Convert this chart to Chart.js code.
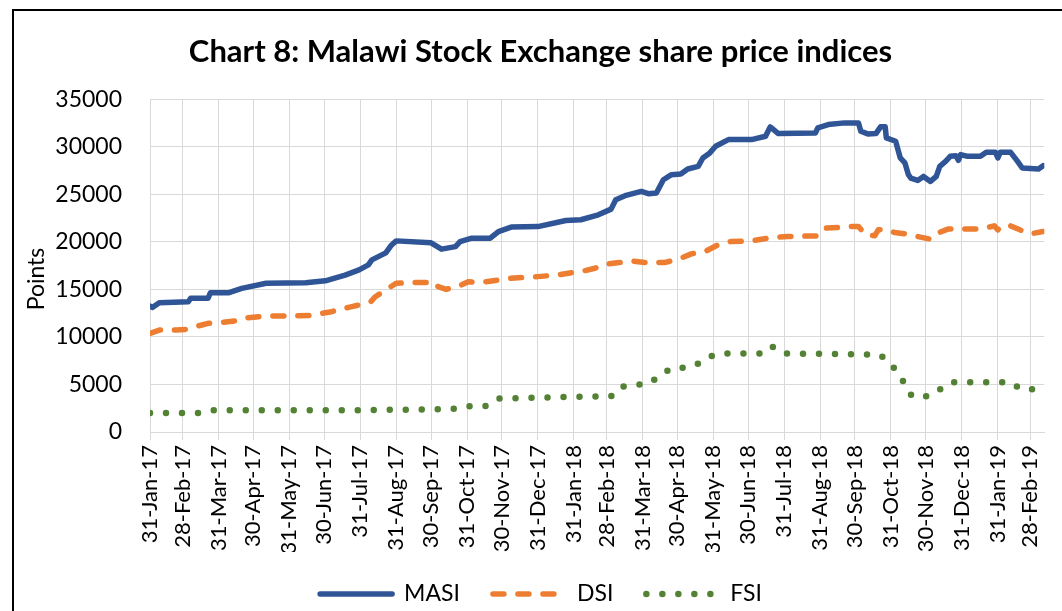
<!DOCTYPE html>
<html>
<head>
<meta charset="utf-8">
<title>Chart 8: Malawi Stock Exchange share price indices</title>
<script src="https://cdn.jsdelivr.net/npm/chart.js@4.4.1/dist/chart.umd.min.js"></script>
<style>
  html, body { margin: 0; padding: 0; background: #fff; }
  #wrap { position: relative; width: 1062px; height: 611px; overflow: hidden; }
  #frame { position: absolute; left: 12px; top: 9px; width: 1100px; height: 700px;
           border-left: 2px solid #000; border-top: 2px solid #000; pointer-events: none; }
</style>
</head>
<body>
<div id="wrap">
  <canvas id="chart" width="1062" height="611"></canvas>
  <div id="frame"></div>
</div>
<script>
// Month-end tick labels on the date axis
const tickLabels = ['31-Jan-17', '28-Feb-17', '31-Mar-17', '30-Apr-17', '31-May-17', '30-Jun-17',
    '31-Jul-17', '31-Aug-17', '30-Sep-17', '31-Oct-17', '30-Nov-17', '31-Dec-17',
    '31-Jan-18', '28-Feb-18', '31-Mar-18', '30-Apr-18', '31-May-18', '30-Jun-18',
    '31-Jul-18', '31-Aug-18', '30-Sep-18', '31-Oct-18', '30-Nov-18', '31-Dec-18',
    '31-Jan-19', '28-Feb-19'];
const axisStart = '2017-01-31';
const axisEnd = '2019-03-12';

// MASI - Malawi All Share Index
const masiDates = ['2017-01-31', '2017-02-02', '2017-02-08', '2017-03-05', '2017-03-07', '2017-03-22',
    '2017-03-24', '2017-04-09', '2017-04-20', '2017-05-11', '2017-06-14', '2017-07-01', '2017-07-18',
    '2017-07-30', '2017-08-07', '2017-08-10', '2017-08-22', '2017-08-27', '2017-08-31', '2017-09-30',
    '2017-10-09', '2017-10-21', '2017-10-25', '2017-11-04', '2017-11-20', '2017-11-27', '2017-12-08',
    '2017-12-31', '2018-01-24', '2018-02-06', '2018-02-21', '2018-03-04', '2018-03-08', '2018-03-16',
    '2018-03-30', '2018-04-05', '2018-04-12', '2018-04-18', '2018-04-25', '2018-05-03', '2018-05-09',
    '2018-05-18', '2018-05-22', '2018-05-28', '2018-06-02', '2018-06-13', '2018-07-03', '2018-07-15',
    '2018-07-19', '2018-07-26', '2018-08-27', '2018-08-29', '2018-09-07', '2018-09-21', '2018-10-03',
    '2018-10-05', '2018-10-11', '2018-10-18', '2018-10-22', '2018-10-26', '2018-10-27', '2018-11-04',
    '2018-11-08', '2018-11-12', '2018-11-15', '2018-11-17', '2018-11-23', '2018-11-28', '2018-12-04',
    '2018-12-09', '2018-12-12', '2018-12-17', '2018-12-21', '2018-12-26', '2018-12-28', '2018-12-30',
    '2019-01-05', '2019-01-16', '2019-01-21', '2019-01-29', '2019-01-31', '2019-02-02', '2019-02-11',
    '2019-02-17', '2019-02-21', '2019-03-07', '2019-03-11'];
const masiValues = [13250, 13100, 13600, 13700, 14060, 14060,
    14650, 14650, 15100, 15650, 15700, 15900, 16500,
    17050, 17570, 18100, 18840, 19670, 20100, 19900,
    19230, 19500, 20030, 20380, 20380, 21080, 21550,
    21600, 22240, 22320, 22840, 23440, 24430, 24850,
    25300, 25060, 25130, 26530, 27060, 27130, 27660,
    27940, 28820, 29350, 30050, 30750, 30750, 31100,
    32090, 31380, 31450, 31980, 32330, 32510, 32510,
    31630, 31350, 31380, 32090, 32090, 30930, 30580,
    28820, 28300, 27060, 26710, 26460, 26880, 26350,
    26880, 27940, 28460, 28990, 29060, 28570, 29170,
    28990, 28990, 29410, 29410, 28820, 29410, 29410,
    28460, 27760, 27660, 28010];

// DSI - Domestic Share Index
const dsiDates = ['2017-01-31', '2017-02-08', '2017-02-22', '2017-03-03', '2017-03-11', '2017-03-22',
    '2017-03-31', '2017-04-14', '2017-04-20', '2017-05-11', '2017-05-30', '2017-06-19', '2017-07-06',
    '2017-07-21', '2017-07-30', '2017-08-09', '2017-08-13', '2017-08-22', '2017-08-31', '2017-09-16',
    '2017-10-04', '2017-10-06', '2017-10-13', '2017-10-23', '2017-11-01', '2017-11-10', '2017-11-21',
    '2017-12-08', '2017-12-31', '2018-01-17', '2018-01-29', '2018-02-06', '2018-02-18', '2018-03-02',
    '2018-03-11', '2018-03-22', '2018-04-02', '2018-04-19', '2018-05-01', '2018-05-12', '2018-05-24',
    '2018-06-04', '2018-06-15', '2018-07-03', '2018-07-20', '2018-08-03', '2018-08-29', '2018-09-04',
    '2018-09-15', '2018-09-24', '2018-10-03', '2018-10-09', '2018-10-17', '2018-10-20', '2018-10-26',
    '2018-11-03', '2018-11-12', '2018-11-23', '2018-12-04', '2018-12-10', '2018-12-19', '2019-01-16',
    '2019-01-28', '2019-01-31', '2019-02-03', '2019-02-11', '2019-02-19', '2019-02-28', '2019-03-11'];
const dsiValues = [10370, 10720, 10720, 10790, 11070, 11430,
    11490, 11670, 11950, 12200, 12200, 12270, 12650,
    13110, 13360, 13700, 14230, 14940, 15640, 15710,
    15710, 15290, 15010, 15290, 15810, 15710, 15890,
    16170, 16340, 16520, 16760, 16870, 17220, 17680,
    17820, 17990, 17820, 17820, 18170, 18730, 18980,
    19680, 20030, 20100, 20450, 20560, 20630, 21440,
    21510, 21610, 21610, 20740, 20630, 21260, 21340,
    20980, 20840, 20560, 20280, 20910, 21340, 21340,
    21680, 21260, 21680, 21680, 21260, 20840, 21080];

// FSI - Foreign Share Index
const fsiDates = ['2017-01-31', '2017-03-14', '2017-03-27', '2017-07-30', '2017-10-06', '2017-10-21',
    '2017-11-04', '2017-11-16', '2017-11-27', '2018-02-03', '2018-03-04', '2018-03-12', '2018-03-25',
    '2018-04-07', '2018-04-15', '2018-04-26', '2018-05-09', '2018-05-20', '2018-05-31', '2018-06-13',
    '2018-07-11', '2018-07-20', '2018-07-30', '2018-10-09', '2018-10-22', '2018-10-30', '2018-11-06',
    '2018-11-12', '2018-11-18', '2018-12-02', '2018-12-12', '2018-12-22', '2019-02-11', '2019-02-20',
    '2019-03-07'];
const fsiValues = [2000, 2000, 2290, 2290, 2390, 2460,
    2740, 2740, 3520, 3700, 3760, 4740, 4920,
    5170, 5980, 6750, 6750, 7280, 8090, 8260,
    8260, 9030, 8260, 8160, 8090, 7210, 6260,
    5030, 3760, 3760, 4470, 5240, 5240, 4500,
    4500];

// Helpers: dates become day numbers on a linear axis
const monthNames = ['Jan', 'Feb', 'Mar', 'Apr', 'May', 'Jun', 'Jul', 'Aug', 'Sep', 'Oct', 'Nov', 'Dec'];
const isoToDay = (s) => Date.UTC(+s.slice(0, 4), +s.slice(5, 7) - 1, +s.slice(8, 10)) / 864e5;
const labelToDay = (s) => {
    const [d, m, y] = s.split('-');
    return Date.UTC(2000 + Number(y), monthNames.indexOf(m), Number(d)) / 864e5;
};
const toPoints = (dates, values) => dates.map((d, i) => ({ x: isoToDay(d), y: values[i] }));
const tickDays = tickLabels.map(labelToDay);

const fontFamily = "Lato, 'Liberation Sans', sans-serif";
const gridColor = '#d9d9d9';

const series = [
    { label: 'MASI', data: toPoints(masiDates, masiValues), color: '#2f5597', width: 5.5, dash: [] },
    { label: 'DSI', data: toPoints(dsiDates, dsiValues), color: '#ed7d31', width: 5.5, dash: [11, 14] },
    { label: 'FSI', data: toPoints(fsiDates, fsiValues), color: '#548235', width: 6.5, dash: [0, 16] },
];

// Rotated y-axis title, placed like the original rather than centred on the plot
const yTitlePlugin = {
    id: 'yTitle',
    afterDraw(chart) {
        const ctx = chart.ctx;
        ctx.save();
        ctx.translate(37, 279);
        ctx.rotate(-Math.PI / 2);
        ctx.font = `23px ${fontFamily}`;
        ctx.fillStyle = '#000';
        ctx.textAlign = 'center';
        ctx.textBaseline = 'middle';
        ctx.fillText('Points', 0, 0);
        ctx.restore();
    }
};

// Bottom legend with long line samples, like the Excel one
const legendPlugin = {
    id: 'lineLegend',
    afterDraw(chart) {
        const ctx = chart.ctx;
        const sampleW = 72, textGap = 12, itemGap = 33, centerX = 541, y = 594;
        ctx.save();
        ctx.font = `23px ${fontFamily}`;
        const widths = series.map(s => sampleW + textGap + ctx.measureText(s.label).width);
        const total = widths.reduce((a, b) => a + b, 0) + itemGap * (series.length - 1);
        let x = centerX - total / 2;
        series.forEach((s, i) => {
            ctx.beginPath();
            ctx.strokeStyle = s.color;
            ctx.lineWidth = s.width;
            ctx.lineCap = 'round';
            ctx.setLineDash(s.dash);
            ctx.moveTo(x, y);
            ctx.lineTo(x + sampleW, y);
            ctx.stroke();
            ctx.setLineDash([]);
            ctx.fillStyle = '#000';
            ctx.textAlign = 'left';
            ctx.textBaseline = 'middle';
            ctx.fillText(s.label, x + sampleW + textGap, y);
            x += widths[i] + itemGap;
        });
        ctx.restore();
    }
};

new Chart(document.getElementById('chart'), {
    type: 'line',
    data: {
        datasets: series.map(s => ({
            label: s.label,
            data: s.data,
            borderColor: s.color,
            backgroundColor: s.color,
            borderWidth: s.width,
            borderDash: s.dash,
            borderCapStyle: 'round',
            borderJoinStyle: 'round',
            pointRadius: 0,
            tension: 0,
            fill: false,
        }))
    },
    options: {
        responsive: false,
        animation: false,
        layout: { padding: { left: 34, right: 15, top: 0, bottom: 59 } },
        scales: {
            x: {
                type: 'linear',
                min: isoToDay(axisStart),
                max: isoToDay(axisEnd),
                afterBuildTicks: (axis) => { axis.ticks = tickDays.map(v => ({ value: v })); },
                afterFit: (axis) => { axis.height = 120; },
                ticks: {
                    autoSkip: false,
                    minRotation: 90,
                    maxRotation: 90,
                    padding: 5,
                    color: '#000',
                    font: { family: fontFamily, size: 22 },
                    callback: (value, index) => tickLabels[index],
                },
                grid: { color: gridColor, lineWidth: 1, drawTicks: true, tickLength: 8, tickColor: gridColor },
                border: { color: gridColor },
            },
            y: {
                min: 0,
                max: 35000,
                afterFit: (axis) => { axis.width = 116; },
                ticks: {
                    stepSize: 5000,
                    padding: 28,
                    color: '#000',
                    font: { family: fontFamily, size: 23 },
                    callback: (value) => String(value),
                },
                grid: { color: gridColor, lineWidth: 1, drawTicks: false },
                border: { display: false },
            }
        },
        plugins: {
            title: {
                display: true,
                text: 'Chart 8: Malawi Stock Exchange share price indices',
                color: '#000',
                font: { family: fontFamily, size: 31, weight: 'bold' },
                padding: { top: 33, bottom: 29 },
            },
            legend: { display: false },
            tooltip: { enabled: false },
        }
    },
    plugins: [yTitlePlugin, legendPlugin]
});
</script>
</body>
</html>
